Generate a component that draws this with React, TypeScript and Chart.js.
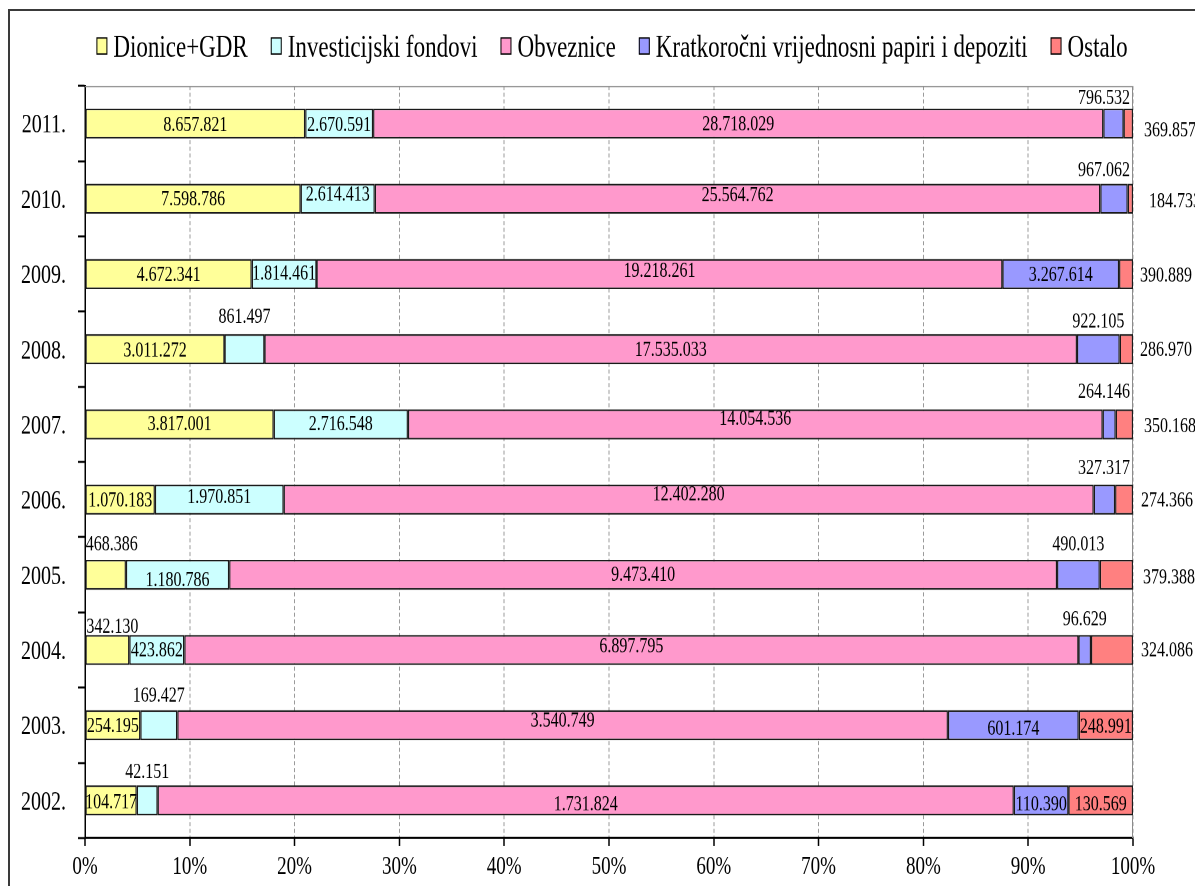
import React, { useEffect, useRef } from 'react';
import { Chart, registerables } from 'chart.js';

Chart.register(...registerables);

// ---------- data ----------
const YEARS = ['2011.', '2010.', '2009.', '2008.', '2007.', '2006.', '2005.', '2004.', '2003.', '2002.'];
const DIONICE = [8657821, 7598786, 4672341, 3011272, 3817001, 1070183, 468386, 342130, 254195, 104717];
const FONDOVI = [2670591, 2614413, 1814461, 861497, 2716548, 1970851, 1180786, 423862, 169427, 42151];
const OBVEZNICE = [28718029, 25564762, 19218261, 17535033, 14054536, 12402280, 9473410, 6897795, 3540749, 1731824];
const KRATKOROCNI = [796532, 967062, 3267614, 922105, 264146, 327317, 490013, 96629, 601174, 110390];
const OSTALO = [369857, 184733, 390889, 286970, 350168, 274366, 379388, 324086, 248991, 130569];
const SERIES_NAMES = ['Dionice+GDR', 'Investicijski fondovi', 'Obveznice', 'Kratkoročni vrijednosni papiri i depoziti', 'Ostalo'];
const X_TICK_STEP = 10;

// ---------- styling ----------
const COLORS = ['#FFFF99', '#CCFFFF', '#FF99CC', '#9999FF', '#FF8080'];
const FAMILY = "'Liberation Serif', 'Times New Roman', serif";
const W = 1195;
const H_DISPLAY = 886;
const H_INT = 656;
const SY = H_DISPLAY / H_INT; // vertical stretch of the original picture

// label placement: [mode, dx, dy] in display px
// c = inside (centre of segment), a = above segment (dy from bar top), r = right of plot
type Place = [string, number, number];
const PLACE: Place[][] = [
  [['c', 0, 2], ['c', 0, 1], ['c', 0, 1], ['c', 0, 2], ['c', 0, 0], ['c', 0, 1], ['a', 6, -15], ['a', 5, -8], ['c', 0, 1], ['c', 0, 2]],
  [['c', 0, 2], ['c', 0, -4], ['c', 0, 0], ['a', 0, -17], ['c', 0, 0], ['c', 0, -2], ['c', 0, 6], ['c', 0, 1], ['a', 0, -14], ['a', 0, -13]],
  [['c', 0, 1], ['c', 0, -3], ['c', 0, -3], ['c', 0, 1], ['c', 0, -5], ['c', 0, -5], ['c', 0, 0], ['c', 0, -3], ['c', 0, -4], ['c', 0, 4]],
  [['a', 0, -10], ['a', 0, -13], ['c', 0, 1], ['a', 0, -12], ['a', 0, -17], ['a', 0, -16], ['a', 0, -15], ['a', 0, -15], ['c', 0, 4], ['c', 0, 4]],
  [['r', 11, 7], ['r', 16, 3], ['r', 7, 2], ['r', 7, 1], ['r', 11, 2], ['r', 8, 1], ['r', 10, 3], ['r', 8, 1], ['c', 0, 2], ['c', 0, 4]],
];

const fmt = (n: number) => String(n).replace(/\B(?=(\d{3})+(?!\d))/g, '.');

export default function App() {
  const ref = useRef<HTMLCanvasElement>(null);

  useEffect(() => {
    const canvas = ref.current;
    if (!canvas) return;
    const series = [DIONICE, FONDOVI, OBVEZNICE, KRATKOROCNI, OSTALO];
    const totals = YEARS.map((_, i) => series.reduce((s, arr) => s + arr[i], 0));

    const datasets = series.map((arr, k) => ({
      label: SERIES_NAMES[k],
      data: arr.map((v, i) => (v / totals[i]) * 100),
      backgroundColor: COLORS[k],
      borderColor: '#1a1a1a',
      borderWidth: 1.3,
      borderSkipped: false as const,
      barPercentage: 0.4,
      categoryPercentage: 1,
    }));

    const framePlugin = {
      id: 'frame',
      beforeDatasetsDraw(chart: any) {
        const { ctx, chartArea: a } = chart;
        ctx.save();
        ctx.strokeStyle = '#8c8c8c';
        ctx.lineWidth = 1;
        ctx.beginPath();
        ctx.moveTo(a.left, a.top + 0.5);
        ctx.lineTo(a.right - 0.5, a.top + 0.5);
        ctx.lineTo(a.right - 0.5, a.bottom);
        ctx.stroke();
        ctx.restore();
      },
    };

    const labelPlugin = {
      id: 'valueLabels',
      afterDatasetsDraw(chart: any) {
        const { ctx, chartArea: a } = chart;
        ctx.save();
        ctx.font = `16px ${FAMILY}`;
        ctx.fillStyle = '#000';
        ctx.textBaseline = 'middle';
        series.forEach((arr, k) => {
          const meta = chart.getDatasetMeta(k);
          meta.data.forEach((el: any, i: number) => {
            const [mode, dx, dy] = PLACE[k][i];
            const text = fmt(arr[i]);
            const w = ctx.measureText(text).width;
            const x0 = Math.min(el.base, el.x);
            const x1 = Math.max(el.base, el.x);
            const cx = (x0 + x1) / 2;
            const top = el.y - el.height / 2;
            let tx: number;
            let ty: number;
            if (mode === 'c') {
              tx = cx + dx - w / 2;
              ty = el.y + dy / SY;
            } else if (mode === 'a') {
              tx = cx + dx - w / 2;
              if (tx + w > a.right - 3) tx = a.right - 3 - w;
              ty = top + dy / SY;
            } else {
              tx = a.right + dx;
              ty = el.y + dy / SY;
            }
            ctx.textAlign = 'left';
            ctx.fillText(text, tx, ty);
          });
        });
        ctx.restore();
      },
    };

    const legendPlugin = {
      id: 'customLegend',
      afterDraw(chart: any) {
        const { ctx } = chart;
        ctx.save();
        ctx.font = `23px ${FAMILY}`;
        const boxW = 11;
        const boxH = 16 / SY;
        const gapText = 6;
        const gapItem = 23;
        const widths = SERIES_NAMES.map((n) => ctx.measureText(n).width);
        const total = widths.reduce((s, w) => s + boxW + gapText + w, 0) + gapItem * (SERIES_NAMES.length - 1);
        let x = 612 - total / 2;
        const baseline = 57 / SY;
        const boxTop = 38 / SY;
        SERIES_NAMES.forEach((name, k) => {
          ctx.fillStyle = COLORS[k];
          ctx.fillRect(x, boxTop, boxW, boxH);
          ctx.strokeStyle = '#000';
          ctx.lineWidth = 1;
          ctx.strokeRect(x + 0.5, boxTop, boxW - 1, boxH);
          ctx.fillStyle = '#000';
          ctx.textBaseline = 'alphabetic';
          ctx.textAlign = 'left';
          ctx.fillText(name, x + boxW + gapText, baseline);
          x += boxW + gapText + widths[k] + gapItem;
        });
        ctx.restore();
      },
    };

    const chart = new Chart(canvas, {
      type: 'bar',
      data: { labels: YEARS, datasets },
      options: {
        indexAxis: 'y',
        responsive: false,
        maintainAspectRatio: false,
        animation: false,
        devicePixelRatio: 2,
        layout: { padding: { top: 86 / SY, right: 62, left: 0, bottom: 0 } },
        plugins: { legend: { display: false }, tooltip: { enabled: false } },
        scales: {
          x: {
            stacked: true,
            min: 0,
            max: 100,
            ticks: {
              stepSize: X_TICK_STEP,
              callback: (v: any) => `${v}%`,
              font: { family: FAMILY, size: 19 },
              color: '#000',
              padding: 4,
              maxRotation: 0,
            },
            grid: { color: '#9a9a9a', lineWidth: 1, tickColor: '#000', tickLength: 6, tickBorderDash: [], tickWidth: 1.5 },
            border: { color: '#000', width: 1.5, dash: [3, 2] },
            afterFit: (s: any) => {
              s.height = H_INT - 838 / SY;
            },
          },
          y: {
            stacked: true,
            ticks: {
              font: { family: FAMILY, size: 20 },
              color: '#000',
              padding: 12,
              labelOffset: 2 / SY,
            },
            grid: { drawOnChartArea: false, color: '#000', tickLength: 7, offset: true, tickWidth: 1.5 },
            border: { color: '#000', width: 1.5 },
            afterFit: (s: any) => {
              s.width = 85;
            },
          },
        },
      },
      plugins: [framePlugin, labelPlugin, legendPlugin],
    } as any);

    return () => chart.destroy();
  }, []);

  return (
    <>
      <div
        style={{
          position: 'absolute',
          left: 8,
          top: 9,
          width: W - 8,
          height: H_DISPLAY - 9,
          boxSizing: 'border-box',
          borderTop: '2px solid #3a3a3a',
          borderLeft: '2px solid #3a3a3a',
        }}
      />
      <canvas
        ref={ref}
        width={W}
        height={H_INT}
        style={{ position: 'absolute', left: 0, top: 0, width: `${W}px`, height: `${H_DISPLAY}px` }}
      />
    </>
  );
}
